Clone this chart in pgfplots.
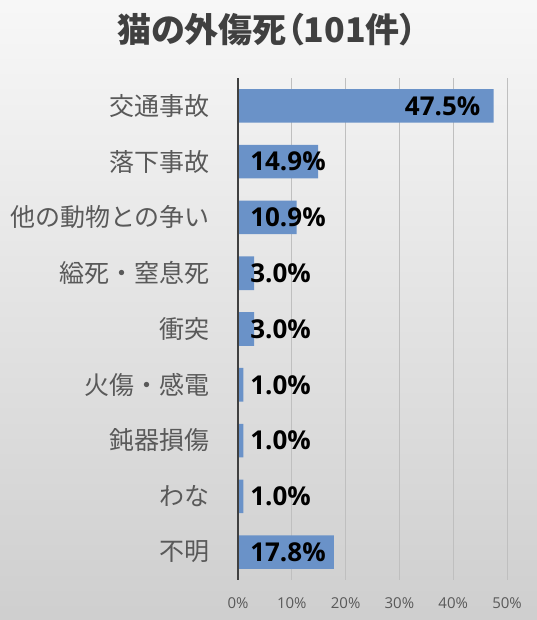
\documentclass[border=0pt]{standalone}
\usepackage{pgfplots}
\pgfplotsset{compat=1.18}
\usepackage{pgfplotstable}
\usepackage{fontspec}
\setmainfont{Open Sans}
\newfontfamily\jp{Noto Sans CJK JP}
\newfontfamily\jptitle{Noto Sans CJK JP}[RawFeature=+palt]

\definecolor{barblue}{RGB}{106,146,200}
\definecolor{txtgray}{RGB}{89,89,89}
\definecolor{titlegray}{RGB}{64,64,64}
\definecolor{axisgray}{RGB}{64,64,64}
\definecolor{gridgray}{RGB}{191,191,191}

% i = row (top to bottom), v = percent, lx = where the label starts
\pgfplotstableread{
i v lx
0 47.5 31.0
1 14.9 2.25
2 10.9 2.25
3 3.0 2.25
4 3.0 2.25
5 1.0 2.25
6 1.0 2.25
7 1.0 2.25
8 17.8 2.25
}\catdata

\begin{document}
\begin{tikzpicture}
  % background
  \shade[top color=white!97!black, bottom color=white!81!black] (0,0) rectangle (537pt,620pt);
  \path[use as bounding box] (0,0) rectangle (537pt,620pt);

  \node[font=\jptitle\bfseries\fontsize{34}{40}\selectfont, text=titlegray]
    at (267pt,590pt) {猫の外傷死（101件）};

  \begin{axis}[
    at={(238pt,40pt)}, anchor=south west,
    width=269pt, height=502pt, scale only axis,
    xmin=0, xmax=50,
    ymin=-0.5, ymax=8.5, y dir=reverse,
    clip=false,
    axis line style={draw=none},
    major tick length=0pt,
    xtick={0,10,...,50},
    xmajorgrids,
    major grid style={gridgray, line width=0.8pt},
    ytick={0,...,8},
    yticklabels={交通事故,落下事故,他の動物との争い,縊死・窒息死,衝突,火傷・感電,鈍器損傷,わな,不明},
    xticklabel={\pgfmathprintnumber{\tick}\%},
    /pgf/number format/assume math mode=true,
    xticklabel style={font=\fontsize{15}{17}\selectfont, text=txtgray, anchor=center, yshift=-23pt},
    yticklabel style={font=\jp\fontsize{25}{30}\selectfont, text=txtgray, anchor=east, inner sep=0pt, xshift=-28pt},
  ]
    % bars
    \addplot[xbar, bar width=33.6pt, fill=barblue, draw=none]
      table[x=v, y=i] {\catdata};

    % value labels
    \addplot[draw=none, mark=none,
      point meta=explicit,
      nodes near coords={\pgfmathprintnumber[fixed,fixed zerofill,precision=1]{\pgfplotspointmeta}\%},
      nodes near coords align=horizontal,
      every node near coord/.append style={font=\bfseries\fontsize{26}{30}\selectfont, text=black, inner sep=0pt}]
      table[x=lx, y=i, meta=v] {\catdata};

    % vertical axis line
    \addplot[line width=2.5pt, axisgray] coordinates {(0,-0.5) (0,8.5)};
  \end{axis}
\end{tikzpicture}
\end{document}
